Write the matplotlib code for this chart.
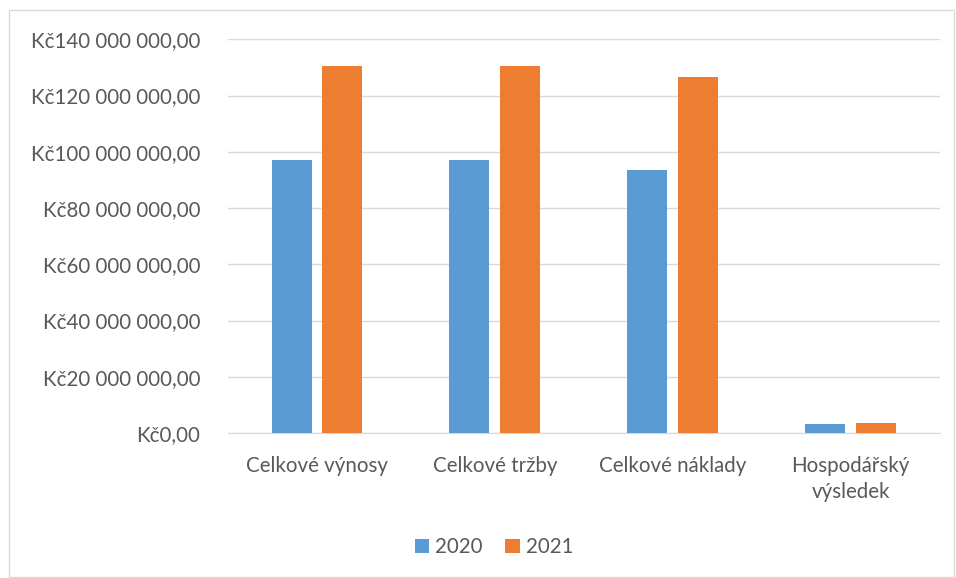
import numpy as np
import matplotlib.pyplot as plt
from matplotlib.patches import Rectangle

# data
categories = ['Celkové výnosy', 'Celkové tržby', 'Celkové náklady', 'Hospodářský\nvýsledek']
years = ['2020', '2021']
values_2020 = [97.2e6, 97.2e6, 93.4e6, 3.3e6]
values_2021 = [130.6e6, 130.6e6, 126.6e6, 3.6e6]

colors = ['#5B9BD5', '#ED7D31']
text_color = '#595959'
fontsize = 14.8

plt.rcParams['font.family'] = ['Lato', 'DejaVu Sans']

fig = plt.figure(figsize=(9.56, 5.78), dpi=100)
ax = fig.add_axes([0.2385, 0.2509, 0.7445, 0.6811])

# outer chart border
fig.patches.append(Rectangle((9 / 956, 1 / 578), 945 / 956, 567 / 578, transform=fig.transFigure,
                             fill=False, edgecolor='#d9d9d9', linewidth=1))

index = np.arange(len(categories))
width = 0.225
offset = 0.143
ax.bar(index - offset, values_2020, width, color=colors[0], label=years[0], zorder=3)
ax.bar(index + offset, values_2021, width, color=colors[1], label=years[1], zorder=3)

ax.set_xlim(-0.5, len(categories) - 0.5)
ax.set_ylim(0, 140e6)
yticks = np.arange(0, 140e6 + 1, 20e6)
ax.set_yticks(yticks)


def czk(v):
    s = '{:,.2f}'.format(v).replace(',', ' ').replace('.', ',')
    return 'Kč' + s


ax.set_yticklabels([czk(v) for v in yticks], fontsize=fontsize, color=text_color)
ax.set_xticks(index)
ax.set_xticklabels(categories, fontsize=fontsize, color=text_color, linespacing=1.4)
ax.tick_params(axis='both', length=0)
ax.tick_params(axis='y', pad=20)
ax.tick_params(axis='x', pad=16.5)

ax.grid(axis='y', color='#d9d9d9', linewidth=1, zorder=0)
for side in ['top', 'right', 'left']:
    ax.spines[side].set_visible(False)
ax.spines['bottom'].set_color('#d9d9d9')

ax.legend(loc='center', bbox_to_anchor=(494 / 956, 1 - 547 / 578), bbox_transform=fig.transFigure,
          ncol=2, frameon=False, fontsize=fontsize, handlelength=0.7, handleheight=0.7,
          columnspacing=1.1, handletextpad=0.3, labelcolor=text_color)

fig.savefig('out.png', dpi=100)
